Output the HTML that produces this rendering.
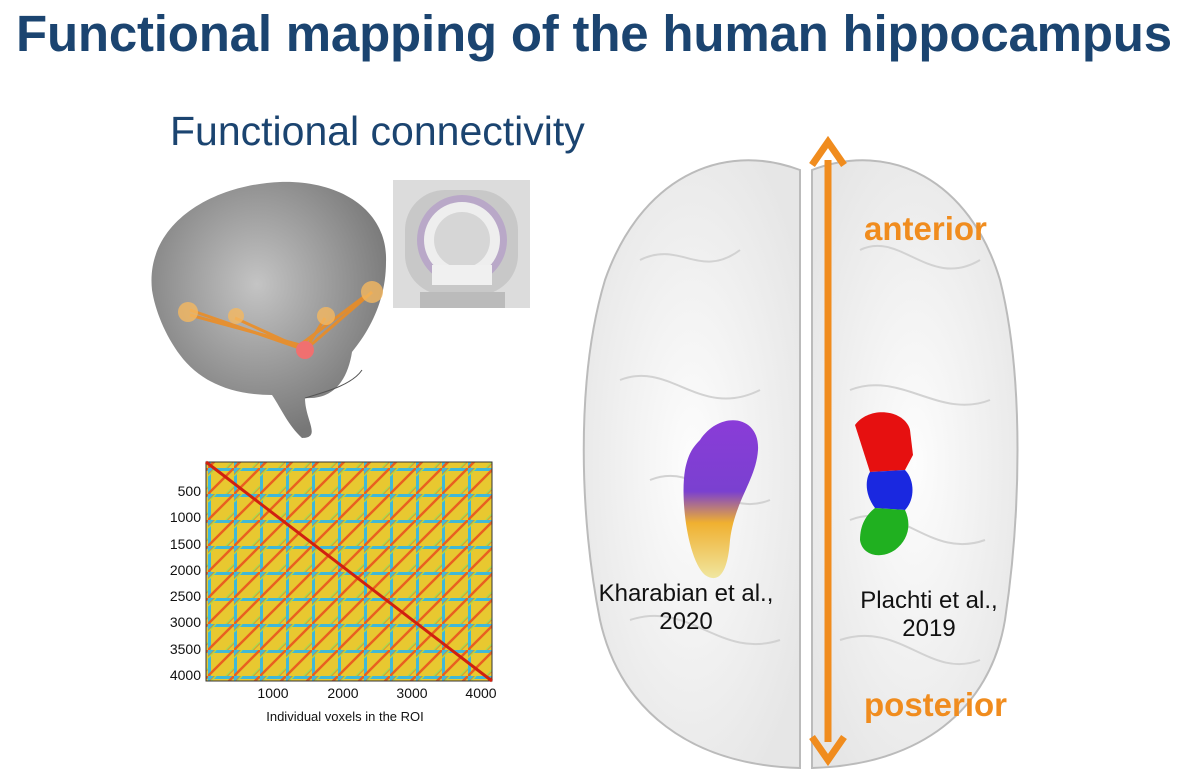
<!DOCTYPE html>
<html><head><meta charset="utf-8"><style>
body{margin:0;width:1200px;height:776px;background:#fff;overflow:hidden;position:relative;font-family:"Liberation Sans",Arial,sans-serif}
.t{position:absolute;white-space:nowrap}
</style></head><body>
<div class="t" style="left:16px;top:4px;font-size:51px;font-weight:bold;color:#1b4470;letter-spacing:-0.2px">Functional mapping of the human hippocampus</div>
<div class="t" style="left:170px;top:108px;font-size:41px;color:#1b4470">Functional connectivity</div>

<svg width="1200" height="776" style="position:absolute;left:0;top:0">
<defs>
<radialGradient id="lb" cx="45%" cy="40%" r="60%"><stop offset="0" stop-color="#c4c4c4"/><stop offset="1" stop-color="#777"/></radialGradient>
<radialGradient id="tb" cx="50%" cy="50%" r="60%"><stop offset="0" stop-color="#fdfdfd"/><stop offset="1" stop-color="#e6e6e6"/></radialGradient>
<linearGradient id="hk" x1="0" y1="0" x2="0" y2="1"><stop offset="0" stop-color="#8a3cd8"/><stop offset="0.45" stop-color="#7a40d0"/><stop offset="0.65" stop-color="#f0b030"/><stop offset="1" stop-color="#f0e6a0"/></linearGradient>
</defs>
<!-- lateral brain -->
<path d="M152,290 C145,225 210,185 280,182 C340,180 388,210 386,262 C386,300 370,330 352,352 C348,378 335,400 305,398 C305,420 322,438 302,438 C288,425 282,410 272,395 C232,395 200,382 180,355 C165,335 155,310 152,290Z" fill="url(#lb)"/>
<path d="M305,398 C325,392 352,385 362,370" stroke="#555" fill="none"/>
<g stroke="#f08c1e" stroke-width="3" opacity="0.85">
<line x1="190" y1="310" x2="305" y2="350"/><line x1="190" y1="315" x2="300" y2="345"/><line x1="235" y1="318" x2="305" y2="350"/>
<line x1="372" y1="292" x2="305" y2="350"/><line x1="365" y1="296" x2="300" y2="345"/><line x1="325" y1="318" x2="305" y2="350"/>
</g>
<g fill="#f5b860" opacity="0.8"><circle cx="188" cy="312" r="10"/><circle cx="236" cy="316" r="8"/><circle cx="372" cy="292" r="11"/><circle cx="326" cy="316" r="9"/></g>
<circle cx="305" cy="350" r="9" fill="#f07070"/>
<!-- MRI -->
<rect x="393" y="180" width="137" height="128" fill="#dcdcdc"/>
<rect x="405" y="190" width="113" height="105" rx="40" fill="#c8c8c8"/>
<circle cx="462" cy="240" r="45" fill="#b9a8c8"/>
<circle cx="462" cy="240" r="38" fill="#eee"/>
<circle cx="462" cy="240" r="28" fill="#d6d6d6"/>
<rect x="432" y="265" width="60" height="20" fill="#f0f0f0"/>
<rect x="420" y="292" width="85" height="16" fill="#bbb"/>
<!-- top brain -->
<path d="M800,170 C720,140 640,180 605,280 C575,380 580,520 600,620 C620,710 690,765 800,768 Z" fill="url(#tb)" stroke="#bbb" stroke-width="2"/>
<path d="M812,170 C890,140 970,180 1000,280 C1025,380 1020,520 1005,620 C990,710 920,765 812,768 Z" fill="url(#tb)" stroke="#bbb" stroke-width="2"/>
<g stroke="#d2d2d2" stroke-width="2" fill="none">
<path d="M640,260 C680,240 700,280 740,250"/><path d="M620,380 C670,360 700,420 760,390"/><path d="M650,480 C700,460 720,520 770,500"/>
<path d="M860,250 C900,230 930,290 980,260"/><path d="M850,390 C900,370 940,420 990,400"/><path d="M850,520 C900,500 930,560 985,540"/>
<path d="M630,620 C690,600 720,660 780,640"/><path d="M840,640 C900,620 930,680 980,660"/>
</g>
<!-- hippocampi -->
<path d="M700,440 C720,410 760,415 758,450 C756,480 735,500 730,540 C728,570 720,585 705,575 C688,560 680,500 685,470 C688,455 692,448 700,440Z" fill="url(#hk)"/>
<path d="M855,425 C870,405 905,410 910,430 L913,455 L905,470 L870,472 Z" fill="#e61010"/>
<path d="M870,472 L905,470 C915,480 915,500 905,510 L875,508 C865,495 865,480 870,472Z" fill="#1a28e0"/>
<path d="M875,508 L905,510 C912,525 908,540 895,550 C880,560 862,555 860,540 C860,525 866,515 875,508Z" fill="#20b020"/>
<!-- arrow -->
<line x1="828" y1="160" x2="828" y2="742" stroke="#f08c1e" stroke-width="7"/>
<polyline points="812,165 828,142 844,165" fill="none" stroke="#f08c1e" stroke-width="7"/>
<polyline points="812,737 828,760 844,737" fill="none" stroke="#f08c1e" stroke-width="7"/>
<!-- matrix -->
<defs>
<pattern id="mp" width="26" height="26" patternUnits="userSpaceOnUse"><rect width="26" height="26" fill="#e8c830"/><rect width="26" height="3" fill="#40b8d8"/><rect width="3" height="26" fill="#40b8d8"/><line x1="0" y1="26" x2="26" y2="0" stroke="#e86020" stroke-width="2.5"/><line x1="-6" y1="13" x2="13" y2="-6" stroke="#e88020" stroke-width="1.5"/><line x1="13" y1="32" x2="32" y2="13" stroke="#e88020" stroke-width="1.5"/><line x1="0" y1="8" x2="8" y2="0" stroke="#a8d850" stroke-width="1.5"/><line x1="18" y1="26" x2="26" y2="18" stroke="#a8d850" stroke-width="1.5"/></pattern>
</defs>
<rect x="206" y="462" width="286" height="219" fill="url(#mp)" stroke="#333"/>
<line x1="206" y1="462" x2="492" y2="681" stroke="#d02010" stroke-width="3"/>
<g font-size="14" fill="#111" text-anchor="end">
<text x="201" y="496">500</text><text x="201" y="522">1000</text><text x="201" y="549">1500</text><text x="201" y="575">2000</text><text x="201" y="601">2500</text><text x="201" y="627">3000</text><text x="201" y="654">3500</text><text x="201" y="680">4000</text>
</g>
<g font-size="14" fill="#111" text-anchor="middle">
<text x="273" y="698">1000</text><text x="343" y="698">2000</text><text x="412" y="698">3000</text><text x="481" y="698">4000</text>
<text x="345" y="721" font-size="13">Individual voxels in the ROI</text>
</g>
<g font-size="24" fill="#111" text-anchor="middle">
<text x="686" y="601">Kharabian et al.,</text><text x="686" y="629">2020</text>
<text x="929" y="608">Plachti et al.,</text><text x="929" y="636">2019</text>
</g>
<g font-size="33" font-weight="bold" fill="#f08c1e">
<text x="864" y="240">anterior</text><text x="864" y="716">posterior</text>
</g>
</svg>
</body></html>
